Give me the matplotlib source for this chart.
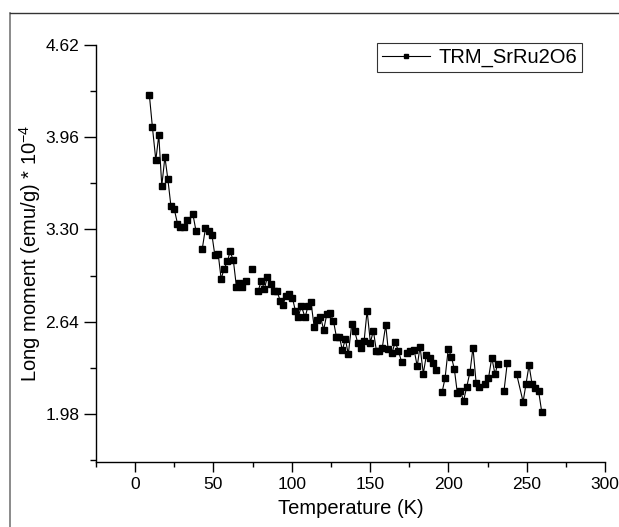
import numpy as np
import matplotlib
matplotlib.use("Agg")
import matplotlib.pyplot as plt
from matplotlib.lines import Line2D
from matplotlib.ticker import MultipleLocator, FixedLocator

plt.rcParams['font.family'] = ['Liberation Sans', 'DejaVu Sans']
plt.rcParams['mathtext.fontset'] = 'custom'
plt.rcParams['mathtext.rm'] = 'Liberation Sans'

# Temperature (K) and moment (emu/g * 1e-4); nan = missing point (gap in the line)
temperature = [
    9.1, 11.0, 13.2, 15.1, 17.0, 19.0, 20.9, 22.8, 24.9, 27.0,
    28.9, 31.1, 33.0, 34.9, 36.8, 38.9, 40.9, 42.8, 44.9, 47.0,
    49.0, 50.9, 53.0, 54.9, 56.8, 58.9, 60.6, 62.7, 64.7, 66.6,
    68.5, 70.7, 72.6, 74.7, 76.6, 78.5, 80.6, 82.5, 84.4, 86.5,
    88.5, 90.6, 92.6, 94.5, 96.2, 98.5, 100.4, 102.3, 104.2, 106.1,
    108.5, 110.4, 112.3, 114.3, 116.4, 118.3, 120.4, 122.4, 124.5, 126.6,
    128.5, 130.4, 132.3, 134.2, 136.1, 138.3, 140.2, 142.1, 144.3, 146.2,
    148.1, 150.2, 152.1, 154.0, 155.9, 157.8, 160.0, 161.5, 164.0, 166.0,
    168.1, 170.1, 172.0, 173.8, 175.8, 178.1, 180.1, 181.9, 184.0, 185.9,
    188.0, 189.9, 191.9, 193.9, 196.0, 197.9, 199.9, 201.9, 203.8, 205.7,
    207.6, 209.7, 211.7, 213.8, 215.7, 217.7, 219.6, 221.5, 223.6, 225.6,
    227.7, 229.8, 231.4, 233.3, 235.5, 237.6, 241.0, 243.6, 247.7, 249.6,
    251.5, 253.4, 255.5, 257.6, 259.6,
]
moment = [
    4.259, 4.034, 3.795, 3.976, 3.612, 3.818, 3.658, 3.471, 3.449, 3.342,
    3.317, 3.317, 3.365, np.nan, 3.413, 3.286, np.nan, 3.157, 3.310, 3.286,
    3.263, 3.114, 3.126, 2.946, 3.018, 3.071, 3.142, 3.078, 2.886, 2.916,
    2.891, 2.933, np.nan, 3.017, np.nan, 2.858, 2.934, 2.874, 2.958, 2.910,
    2.858, 2.856, 2.790, 2.761, 2.826, 2.838, 2.810, 2.718, 2.675, 2.752,
    2.670, 2.752, 2.777, 2.603, 2.654, 2.675, 2.582, 2.695, 2.699, 2.646,
    2.531, 2.531, 2.436, 2.515, 2.407, 2.623, 2.570, 2.488, 2.450, 2.503,
    2.718, 2.490, 2.575, 2.433, 2.426, 2.454, 2.616, 2.447, 2.416, 2.493,
    2.431, 2.352, np.nan, 2.416, 2.429, 2.438, 2.321, 2.460, 2.268, 2.398,
    2.378, 2.342, 2.296, np.nan, 2.135, 2.237, 2.445, 2.388, 2.300, 2.130,
    2.145, 2.073, 2.172, 2.280, 2.454, 2.203, 2.172, np.nan, 2.191, 2.234,
    2.383, 2.262, 2.335, np.nan, 2.143, 2.344, np.nan, 2.263, 2.066, 2.196,
    2.328, 2.195, 2.167, 2.143, 1.994,
]
y_ticks = [1.98, 2.64, 3.30, 3.96, 4.62]
series_name = "TRM_SrRu2O6"

fig = plt.figure(figsize=(6.19, 5.27), dpi=100)
ax = fig.add_axes([96 / 619, 1 - 462 / 527, 509 / 619, 417 / 527])

ax.plot(temperature, moment, color="black", lw=0.8, marker="s", ms=4.3,
        mfc="black", mec="black")

ax.set_xlim(-25, 300)
ax.set_ylim(1.635, 4.62)
ax.xaxis.set_major_locator(MultipleLocator(50))
ax.xaxis.set_minor_locator(MultipleLocator(25))
ax.yaxis.set_major_locator(FixedLocator(y_ticks))
ax.yaxis.set_minor_locator(FixedLocator([1.65, 2.31, 2.97, 3.63, 4.29]))
ax.set_yticklabels(["%.2f" % v for v in y_ticks])

ax.spines["top"].set_visible(False)
ax.spines["right"].set_visible(False)
for s in ("left", "bottom"):
    ax.spines[s].set_linewidth(1.0)
ax.tick_params(axis="x", which="major", direction="out", length=7, width=1, labelsize=12.5, pad=4)
ax.tick_params(axis="x", which="minor", direction="out", length=3.5, width=1)
ax.tick_params(axis="y", which="major", direction="out", length=9, width=1, labelsize=12.5, pad=3)
ax.tick_params(axis="y", which="minor", direction="out", length=4.5, width=1)

ax.set_xlabel("Temperature (K)", fontsize=14.5, labelpad=5)
ax.set_ylabel(r"Long moment (emu/g) * 10$^{-4}$", fontsize=14.5, labelpad=2)

handle = Line2D([], [], color="black", lw=0.8, marker="s", ms=3.2)
leg = ax.legend([handle], [series_name], loc="upper right",
                bbox_to_anchor=(582 / 619, 1 - 43 / 527), bbox_transform=fig.transFigure,
                fontsize=14.5, frameon=True, fancybox=False, edgecolor="black",
                handlelength=2.4, handletextpad=0.4, borderpad=0.25, borderaxespad=0)
leg.get_frame().set_linewidth(0.8)

# outer frame lines (left and top)
fig.add_artist(Line2D([10 / 619, 10 / 619], [0, 1 - 13 / 527], color="#777777", lw=1.2,
                      transform=fig.transFigure))
fig.add_artist(Line2D([10 / 619, 1], [1 - 13 / 527, 1 - 13 / 527], color="#333333", lw=1.0,
                      transform=fig.transFigure))

fig.savefig("out.png", dpi=100)
